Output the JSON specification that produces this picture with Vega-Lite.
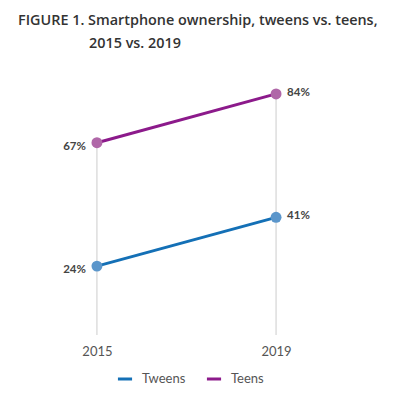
{
  "$schema": "https://vega.github.io/schema/vega-lite/v6.json",
  "autosize": "none",
  "width": 293,
  "height": 287,
  "padding": {"left": 40, "top": 48, "right": 63, "bottom": 69},
  "background": "white",
  "view": {"stroke": null},
  "title": {
    "text": ["FIGURE 1. Smartphone ownership, tweens vs. teens,", "\u200b\u00a0\u00a0\u00a0\u00a0\u00a0\u00a0\u00a0\u00a0\u00a0\u00a0\u00a0\u00a0\u00a0\u00a0\u00a0\u00a0\u00a0\u00a0\u00a02015 vs. 2019"],
    "anchor": "start",
    "dx": -22,
    "offset": -3,
    "font": "Open Sans",
    "fontSize": 14.4,
    "fontWeight": 600,
    "color": "#333333",
    "lineHeight": 23
  },
  "data": {
    "values": [
      {"year": "2015", "group": "Tweens", "value": 24, "label": "24%"},
      {"year": "2019", "group": "Tweens", "value": 41, "label": "41%"},
      {"year": "2015", "group": "Teens", "value": 67, "label": "67%"},
      {"year": "2019", "group": "Teens", "value": 84, "label": "84%"}
    ]
  },
  "encoding": {
    "x": {
      "field": "year",
      "type": "ordinal",
      "scale": {"type": "point", "padding": 0.318},
      "axis": {
        "title": null,
        "domain": false,
        "ticks": false,
        "grid": false,
        "labelAngle": 0,
        "labelFont": "Lato",
        "labelFontSize": 13,
        "labelColor": "#555555",
        "labelPadding": 10
      }
    }
  },
  "layer": [
    {
      "transform": [{"aggregate": [{"op": "max", "field": "value", "as": "top"}], "groupby": ["year"]}],
      "mark": {"type": "rule", "color": "#cccccc", "strokeWidth": 1},
      "encoding": {
        "y": {"field": "top", "type": "quantitative", "scale": {"domain": [0, 100]}, "axis": null},
        "y2": {"datum": 0}
      }
    },
    {
      "mark": {"type": "line", "strokeWidth": 3},
      "encoding": {
        "y": {"field": "value", "type": "quantitative"},
        "stroke": {
          "field": "group",
          "type": "nominal",
          "sort": ["Tweens", "Teens"],
          "scale": {"domain": ["Tweens", "Teens"], "range": ["#1470b6", "#8c1a8b"]},
          "legend": {
            "title": null,
            "orient": "none",
            "direction": "horizontal",
            "legendX": 76,
            "legendY": 322,
            "symbolType": "stroke",
            "symbolStrokeWidth": 3,
            "symbolSize": 200,
            "labelFont": "Lato",
            "labelFontSize": 13,
            "labelColor": "#555555",
            "columnPadding": 14,
            "labelOffset": 8
          }
        }
      }
    },
    {
      "mark": {"type": "circle", "size": 120, "opacity": 1},
      "encoding": {
        "y": {"field": "value", "type": "quantitative"},
        "fill": {
          "field": "group",
          "type": "nominal",
          "scale": {"domain": ["Tweens", "Teens"], "range": ["#5b96cb", "#b067a8"]},
          "legend": null
        }
      }
    },
    {
      "transform": [{"filter": "datum.year == '2015'"}],
      "mark": {"type": "text", "align": "right", "baseline": "middle", "dx": -11, "dy": 4, "font": "Lato", "fontSize": 11.5, "fontWeight": "bold", "color": "#444444"},
      "encoding": {
        "y": {"field": "value", "type": "quantitative"},
        "text": {"field": "label"}
      }
    },
    {
      "transform": [{"filter": "datum.year == '2019'"}],
      "mark": {"type": "text", "align": "left", "baseline": "middle", "dx": 11, "dy": -1, "font": "Lato", "fontSize": 11.5, "fontWeight": "bold", "color": "#444444"},
      "encoding": {
        "y": {"field": "value", "type": "quantitative"},
        "text": {"field": "label"}
      }
    }
  ]
}
